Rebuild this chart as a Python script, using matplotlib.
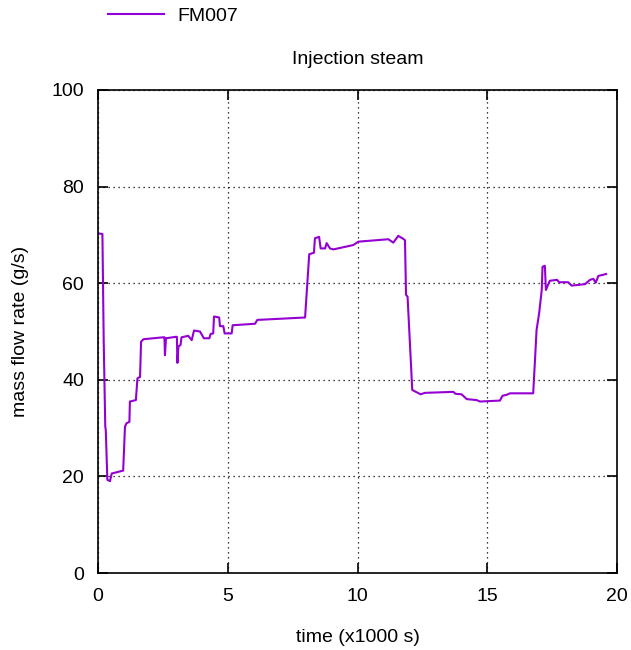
import matplotlib
matplotlib.use('Agg')
import matplotlib.pyplot as plt

plt.rcParams['font.family'] = ['Liberation Sans', 'DejaVu Sans']

# time in 1000 s, mass flow rate in g/s
time_ks = [0.0, 0.17, 0.22, 0.28, 0.30, 0.36, 0.46, 0.53, 0.97, 1.04, 1.10, 1.21, 1.23,
           1.46, 1.52, 1.62, 1.66, 1.75, 2.52, 2.56, 2.58, 2.62, 3.0, 3.04, 3.06, 3.10,
           3.18, 3.22, 3.48, 3.61, 3.70, 3.93, 4.08, 4.29, 4.34, 4.44, 4.47, 4.67, 4.70,
           4.83, 4.88, 5.15, 5.19, 6.05, 6.14, 7.98, 8.14, 8.32, 8.36, 8.52, 8.58, 8.75,
           8.81, 8.94, 9.07, 9.84, 10.03, 11.19, 11.38, 11.57, 11.76, 11.83, 11.87,
           11.93, 12.11, 12.25, 12.43, 12.60, 13.69, 13.78, 14.01, 14.21, 14.59, 14.72,
           15.49, 15.59, 15.75, 15.88, 16.77, 16.84, 16.90, 17.0, 17.10, 17.13, 17.22,
           17.26, 17.41, 17.69, 17.77, 18.12, 18.25, 18.77, 18.96, 19.09, 19.18, 19.28,
           19.58]
flow_gs = [70.3, 70.2, 48.0, 30.3, 29.6, 19.3, 19.0, 20.6, 21.2, 30.3, 31.0, 31.3, 35.5,
           35.8, 40.3, 40.6, 47.9, 48.4, 48.8, 48.8, 45.1, 48.6, 48.9, 48.9, 43.5, 46.9,
           47.2, 48.8, 49.1, 48.2, 50.2, 50.0, 48.6, 48.6, 49.5, 49.6, 53.1, 52.9, 51.1,
           51.1, 49.6, 49.6, 51.3, 51.6, 52.4, 52.9, 66.0, 66.3, 69.3, 69.6, 67.2, 67.2,
           68.3, 67.2, 67.0, 67.9, 68.6, 69.1, 68.4, 69.8, 69.2, 68.9, 57.6,
           57.2, 37.9, 37.5, 37.0, 37.3, 37.5, 37.1, 37.0, 36.0, 35.8, 35.5,
           35.7, 36.7, 36.9, 37.2, 37.2, 44.1, 50.3, 53.8, 58.6, 63.4, 63.6,
           58.6, 60.5, 60.7, 60.2, 60.2, 59.5, 59.8, 60.7, 60.9, 60.1, 61.5,
           61.9]

x_ticks = [0, 5, 10, 15, 20]
y_ticks = [0, 20, 40, 60, 80, 100]

fs = 14

fig = plt.figure(figsize=(6.31, 6.50), dpi=100)
ax = fig.add_axes([98/631, 77/650, 519/631, 483/650])

line, = ax.plot(time_ks, flow_gs, color='#9400d3', lw=1.5, label='FM007')

ax.set_xlim(0, 20)
ax.set_ylim(0, 100)
ax.set_xticks(x_ticks)
ax.set_yticks(y_ticks)
ax.tick_params(direction='in', top=True, right=True, length=7, width=1.2,
               labelsize=fs)
ax.tick_params(axis='x', pad=11)
ax.tick_params(axis='y', pad=10)
for sp in ax.spines.values():
    sp.set_linewidth(1.2)
ax.grid(True, color='black', linestyle=(0, (1, 3)), lw=0.9)

ax.set_xlabel('time (x1000 s)', fontsize=fs)
ax.xaxis.set_label_coords(0.5, (573 - 629) / 483)
ax.set_ylabel('mass flow rate (g/s)', fontsize=fs)
ax.yaxis.set_label_coords((29 - 98) / 519, 0.5)
ax.set_title('Injection steam', fontsize=fs, pad=19)

fig.legend(handles=[line], loc='center left', bbox_to_anchor=(108/631, 1 - 16/650),
           frameon=False, fontsize=fs, handlelength=2.9, handletextpad=0.67,
           borderpad=0, borderaxespad=0)

fig.savefig('out.png', dpi=100)
